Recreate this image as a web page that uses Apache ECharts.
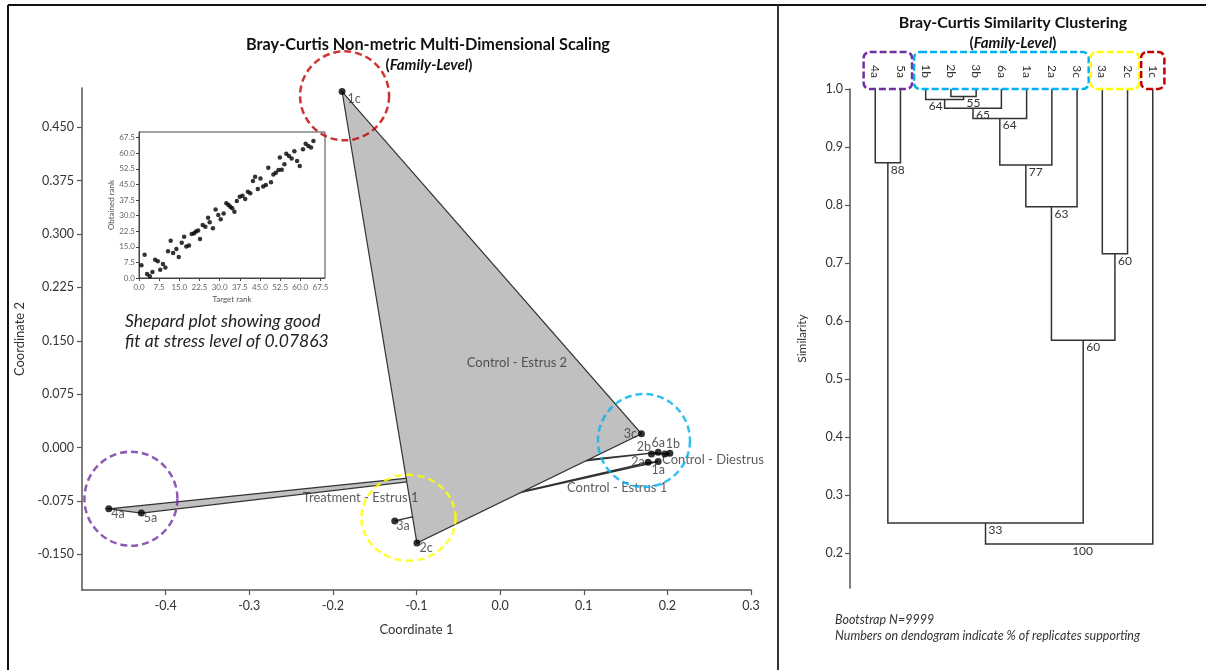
<!DOCTYPE html>
<html><head><meta charset="utf-8">
<script src="https://cdn.jsdelivr.net/npm/echarts@6/dist/echarts.min.js"></script>
<style>html,body{margin:0;padding:0;background:#fff}#c{width:1206px;height:670px}</style>
</head><body><div id="c"></div>
<script>
// ---------- NMDS sample coordinates ----------
const sampleNames = ['1a','2a','3a','4a','5a','6a','1b','2b','3b','1c','2c','3c'];
const coord1 = [0.189, 0.177, -0.126, -0.468, -0.429, 0.189, 0.203, 0.181, 0.197, -0.189, -0.0995, 0.169];
const coord2 = [-0.0197, -0.0207, -0.103, -0.086, -0.092, -0.0066, -0.008, -0.0089, -0.0089, 0.500, -0.134, 0.0193];

// ---------- groups (convex hulls) ----------
const groupNames = ['Control - Estrus 1', 'Treatment - Estrus 1', 'Control - Diestrus', 'Control - Estrus 2'];
const groupMembers = [['1a','2a','3a'], ['4a','5a','6a'], ['1b','2b','3b'], ['1c','2c','3c']];

// ---------- highlight circles (centres in data units) ----------
const circleX = [-0.186, 0.172, -0.4415, -0.1096];
const circleY = [0.494, 0.0099, -0.0718, -0.0986];

// ---------- axis ticks ----------
const nmdsXTicks = [-0.4, -0.3, -0.2, -0.1, 0.0, 0.1, 0.2, 0.3];
const nmdsYTicks = [-0.15, -0.075, 0.0, 0.075, 0.15, 0.225, 0.3, 0.375, 0.45];
const shepTicks = [0, 7.5, 15, 22.5, 30, 37.5, 45, 52.5, 60, 67.5];
const simTicks = [0.2, 0.3, 0.4, 0.5, 0.6, 0.7, 0.8, 0.9, 1.0];

// ---------- Shepard plot ----------
const targetRank = [0.9,2.1,3.0,4.0,5.0,6.0,7.0,7.9,8.9,9.8,10.8,11.8,12.7,13.9,14.8,15.9,16.8,17.6,18.6,19.6,20.5,21.2,22.0,22.7,23.7,24.7,25.7,26.3,27.5,28.5,29.5,30.4,31.5,32.5,33.3,34.0,34.7,35.5,36.4,37.5,38.5,39.5,40.5,41.4,42.4,43.2,44.2,45.2,46.2,47.2,48.1,49.1,50.0,50.9,51.9,52.4,53.1,54.1,54.8,55.8,56.8,57.8,58.8,59.8,61.0,62.0,63.0,64.0,64.9];
const obtainedRank = [6.1,11.2,1.9,0.8,2.9,8.8,8.0,4.0,6.7,5.1,12.9,17.9,12.0,13.9,10.1,16.9,19.8,15.2,15.6,21.1,21.5,22.3,22.8,18.8,25.5,24.6,29.0,26.8,23.9,32.9,30.3,28.2,31.0,35.9,35.1,34.3,33.5,31.9,37.0,39.1,39.6,38.0,41.5,40.7,46.6,48.7,42.8,47.9,44.0,44.7,53.0,46.0,49.8,50.6,51.9,57.9,52.0,54.7,59.8,58.7,57.4,61.0,56.2,53.9,61.9,64.6,63.5,62.7,65.9];

// ---------- Dendrogram ----------
const leafLabels = ['4a','5a','1b','2b','3b','6a','1a','2a','3c','3a','2c','1c'];
// node ids: leaves 0..11, merge k creates node 12+k
const mergeLeft  = [3, 2, 13, 14, 15, 16, 0, 9, 17, 18, 21];
const mergeRight = [4, 12, 5, 6, 7, 8, 1, 10, 19, 20, 11];
const mergeSim   = [0.987, 0.982, 0.967, 0.949, 0.869, 0.797, 0.873, 0.716, 0.567, 0.252, 0.216];
const mergeBoot  = [55, 64, 65, 64, 77, 63, 88, 60, 60, 33, 100];
// leaf-label boxes (first/last leaf index)
const boxFirst = [0, 2, 9, 11];
const boxLast  = [1, 8, 10, 11];

// =====================================================
const FONT = 'Lato, "Liberation Sans", sans-serif';
const groupColors = ['#7030a0', '#00b0f0', '#ffff00', '#c00000'];
const circleColors = ['#c00000', '#00b0f0', '#7030a0', '#ffff00'];
const circleSizes = [[89, 89], [92, 93], [93, 94], [94, 86]];

const byName = {}; sampleNames.forEach((n, i) => byName[n] = i);
const groupCentroids = groupMembers.map(m => {
  let sx = 0, sy = 0;
  m.forEach(n => { sx += coord1[byName[n]]; sy += coord2[byName[n]]; });
  return [sx / m.length, sy / m.length];
});

function hull(pts) {
  const p = pts.slice().sort((a, b) => a[0] - b[0] || a[1] - b[1]);
  if (p.length < 3) return p;
  const cross = (o, a, b) => (a[0]-o[0])*(b[1]-o[1]) - (a[1]-o[1])*(b[0]-o[0]);
  const lo = [], up = [];
  for (const q of p) { while (lo.length >= 2 && cross(lo[lo.length-2], lo[lo.length-1], q) <= 0) lo.pop(); lo.push(q); }
  for (let i = p.length-1; i >= 0; i--) { const q = p[i]; while (up.length >= 2 && cross(up[up.length-2], up[up.length-1], q) <= 0) up.pop(); up.push(q); }
  up.pop(); lo.pop(); return lo.concat(up);
}

const nodeX = leafLabels.map((_, i) => i);
const nodeY = leafLabels.map(() => 1.0);
mergeLeft.forEach((L, i) => { const R = mergeRight[i]; nodeX.push((nodeX[L] + nodeX[R]) / 2); nodeY.push(mergeSim[i]); });

const labelPos = {
  '1c': {position: 'right', distance: 2, offset: [0, 7]},
  '4a': {position: 'right', distance: 0, offset: [-1, 5]},
  '5a': {position: 'right', distance: 0, offset: [-1, 5]},
  '3a': {position: 'right', distance: 0, offset: [-2, 5]},
  '2c': {position: 'right', distance: 0, offset: [-1, 5]},
  '3c': {position: 'left', distance: 1, offset: [0, 0]},
  '2b': {position: 'left', distance: 0, offset: [3, -7]},
  '6a': {position: 'top', distance: 0, offset: [0, 1]},
  '1b': {position: 'top', distance: 0, offset: [3, 1]},
  '2a': {position: 'left', distance: 0, offset: [0, 0]},
  '1a': {position: 'bottom', distance: 0, offset: [0, -2]},
  '3b': {show: false}
};

const axisLineStyle = {color: '#555', width: 1.5};
const tickLabel = {fontFamily: FONT, fontSize: 12.5, color: '#333'};

const option = {
  animation: false,
  backgroundColor: '#fff',
  grid: [
    {left: 82, top: 88, right: 455, bottom: 80, outerBoundsMode: 'none'},
    {left: 139, top: 132, width: 186, height: 146, show: true, borderColor: '#444', borderWidth: 1, outerBoundsMode: 'none'},
    {left: 850, top: 89, right: 28, bottom: 82, outerBoundsMode: 'none'}
  ],
  xAxis: [
    {gridIndex: 0, type: 'value', min: -0.5, max: 0.3, name: 'Coordinate 1', nameLocation: 'middle', nameGap: 33,
     nameTextStyle: {fontFamily: FONT, fontSize: 13, color: '#333'},
     axisLine: {onZero: false, lineStyle: axisLineStyle}, splitLine: {show: false},
     axisTick: {length: 5, customValues: nmdsXTicks, lineStyle: {color: '#555', width: 1.2}},
     axisLabel: Object.assign({customValues: nmdsXTicks, margin: 9, formatter: v => v.toFixed(1)}, tickLabel)},
    {gridIndex: 1, type: 'value', min: 0, max: 69.2, name: 'Target rank', nameLocation: 'middle', nameGap: 17,
     nameTextStyle: {fontFamily: FONT, fontSize: 8, color: '#555'},
     axisLine: {onZero: false, lineStyle: {color: '#444', width: 1}}, splitLine: {show: false},
     axisTick: {length: 3, customValues: shepTicks, lineStyle: {color: '#444'}},
     axisLabel: {customValues: shepTicks, margin: 5, formatter: v => v.toFixed(1), fontFamily: FONT, fontSize: 8, color: '#666'}},
    {gridIndex: 2, type: 'value', position: 'top', min: -1, max: 12,
     axisLine: {show: false, onZero: false}, axisTick: {show: false}, splitLine: {show: false},
     axisLabel: {customValues: leafLabels.map((_, i) => i), rotate: 90, margin: 11, formatter: v => leafLabels[Math.round(v)],
       fontFamily: FONT, fontSize: 12, color: '#333'}}
  ],
  yAxis: [
    {gridIndex: 0, type: 'value', min: -0.2, max: 0.505, name: 'Coordinate 2', nameLocation: 'middle', nameGap: 50, nameRotate: 90,
     nameTextStyle: {fontFamily: FONT, fontSize: 13, color: '#333'},
     axisLine: {show: true, onZero: false, lineStyle: axisLineStyle}, splitLine: {show: false},
     axisTick: {show: true, length: 5, customValues: nmdsYTicks, lineStyle: {color: '#555', width: 1.2}},
     axisLabel: Object.assign({customValues: nmdsYTicks, margin: 8, formatter: v => v.toFixed(3)}, tickLabel)},
    {gridIndex: 1, type: 'value', min: 0, max: 70.2, name: 'Obtained rank', nameLocation: 'middle', nameGap: 22, nameRotate: 90,
     nameTextStyle: {fontFamily: FONT, fontSize: 8, color: '#555'},
     axisLine: {show: true, onZero: false, lineStyle: {color: '#444', width: 1}}, splitLine: {show: false},
     axisTick: {show: true, length: 3, customValues: shepTicks, lineStyle: {color: '#444'}},
     axisLabel: {customValues: shepTicks, margin: 4, formatter: v => v.toFixed(1), fontFamily: FONT, fontSize: 8, color: '#666'}},
    {gridIndex: 2, type: 'value', min: 0.14, max: 1.0, name: 'Similarity', nameLocation: 'middle', nameGap: 42, nameRotate: 90,
     nameTextStyle: {fontFamily: FONT, fontSize: 12, color: '#333'},
     axisLine: {show: true, onZero: false, lineStyle: axisLineStyle}, splitLine: {show: false},
     axisTick: {show: true, length: 5, customValues: simTicks, lineStyle: {color: '#555', width: 1.2}},
     axisLabel: Object.assign({customValues: simTicks, margin: 7, formatter: v => v.toFixed(1)}, tickLabel)}
  ],
  series: [
    { // convex hulls
      type: 'custom', xAxisIndex: 0, yAxisIndex: 0, z: 1, clip: false, silent: true,
      data: groupCentroids.map((c, g) => [c[0], c[1], g]),
      renderItem: (params, api) => {
        const g = params.dataIndex;
        const pts = groupMembers[g].map(n => api.coord([coord1[byName[n]], coord2[byName[n]]]));
        return {type: 'polygon', shape: {points: hull(pts)}, style: {fill: '#c0c0c0', stroke: '#333', lineWidth: 1.2}};
      }
    },
    { // group labels
      type: 'scatter', xAxisIndex: 0, yAxisIndex: 0, z: 2, symbolSize: 0, silent: true,
      data: groupCentroids.map((c, g) => [c[0], c[1], groupNames[g]]),
      label: {show: true, position: 'right', distance: 0, align: 'left', verticalAlign: 'top', formatter: p => p.value[2],
        fontFamily: FONT, fontSize: 13, color: '#333'}
    },
    { // dashed highlight circles
      type: 'scatter', xAxisIndex: 0, yAxisIndex: 0, z: 3, silent: true, symbol: 'circle',
      data: circleX.map((x, i) => ({value: [x, circleY[i]], symbolSize: circleSizes[i],
        itemStyle: {color: 'rgba(0,0,0,0)', borderColor: circleColors[i], borderWidth: 2.5, borderType: [7, 4]}}))
    },
    { // samples
      type: 'scatter', xAxisIndex: 0, yAxisIndex: 0, z: 4, symbolSize: 7, itemStyle: {color: '#000'},
      data: sampleNames.map((n, i) => ({value: [coord1[i], coord2[i]], name: n,
        label: Object.assign({show: true, formatter: n, fontFamily: FONT, fontSize: 12.5, color: '#333'}, labelPos[n] || {})}))
    },
    { // Shepard plot
      type: 'scatter', xAxisIndex: 1, yAxisIndex: 1, z: 4, symbolSize: 4.5, itemStyle: {color: '#000'},
      data: targetRank.map((t, i) => [t, obtainedRank[i]])
    },
    { // dendrogram
      type: 'custom', xAxisIndex: 2, yAxisIndex: 2, z: 2, clip: false, silent: true,
      data: mergeSim.map((s, i) => [nodeX[leafLabels.length + i], s, i]),
      renderItem: (params, api) => {
        const i = params.dataIndex, L = mergeLeft[i], R = mergeRight[i], s = mergeSim[i];
        const a = api.coord([nodeX[L], nodeY[L]]), b = api.coord([nodeX[L], s]);
        const c = api.coord([nodeX[R], s]), d = api.coord([nodeX[R], nodeY[R]]);
        const anchorX = (i === 1) ? nodeX[L] : nodeX[leafLabels.length + i];
        const m = api.coord([anchorX, s]);
        return {type: 'group', children: [
          {type: 'polyline', shape: {points: [a, b, c, d]}, style: {stroke: '#333', lineWidth: 1.5, fill: null}},
          {type: 'text', x: m[0] + 3, y: m[1] + 1, style: {text: String(mergeBoot[i]), fill: '#333', fontFamily: FONT, fontSize: 12, align: 'left', verticalAlign: 'top'}}
        ]};
      }
    },
    { // leaf-label boxes
      type: 'custom', xAxisIndex: 2, yAxisIndex: 2, z: 3, clip: false, silent: true,
      data: boxFirst.map((f, i) => [f, 1.0, i]),
      renderItem: (params, api) => {
        const i = params.dataIndex;
        const x0 = api.coord([boxFirst[i] - 0.5, 1.0])[0] + 1;
        const x1 = api.coord([boxLast[i] + 0.5, 1.0])[0] - 1;
        const yb = api.coord([0, 1.0])[1];
        return {type: 'rect', shape: {x: x0, y: yb - 37, width: x1 - x0, height: 37, r: 6},
          style: {fill: null, stroke: groupColors[i], lineWidth: 2.5, lineDash: [7, 3]}};
      }
    }
  ],
  graphic: [
    {type: 'line', silent: true, shape: {x1: 8, y1: 5, x2: 1206, y2: 5}, style: {stroke: '#111', lineWidth: 2}},
    {type: 'line', silent: true, shape: {x1: 8, y1: 5, x2: 8, y2: 670}, style: {stroke: '#111', lineWidth: 2}},
    {type: 'line', silent: true, shape: {x1: 778, y1: 5, x2: 778, y2: 670}, style: {stroke: '#333', lineWidth: 2}},
    {type: 'text', x: 428, y: 45, style: {text: 'Bray-Curtis Non-metric Multi-Dimensional Scaling', fontFamily: FONT, fontWeight: 'bold', fontSize: 16.3, fill: '#111', align: 'center', verticalAlign: 'middle'}},
    {type: 'text', x: 429, y: 65, style: {text: '({i|Family-Level})', fontFamily: FONT, fontWeight: 'bold', fontSize: 15, fill: '#111', align: 'center', verticalAlign: 'middle',
      rich: {i: {fontFamily: FONT, fontStyle: 'italic', fontWeight: 'bold', fontSize: 15, fill: '#111'}}}},
    {type: 'text', x: 1013, y: 23, style: {text: 'Bray-Curtis Similarity Clustering', fontFamily: FONT, fontWeight: 'bold', fontSize: 16, fill: '#111', align: 'center', verticalAlign: 'middle'}},
    {type: 'text', x: 1013, y: 43, style: {text: '({i|Family-Level})', fontFamily: FONT, fontWeight: 'bold', fontSize: 15, fill: '#111', align: 'center', verticalAlign: 'middle',
      rich: {i: {fontFamily: FONT, fontStyle: 'italic', fontWeight: 'bold', fontSize: 15, fill: '#111'}}}},
    {type: 'text', x: 125, y: 311, style: {text: 'Shepard plot showing good\nfit at stress level of 0.07863', fontFamily: FONT, fontStyle: 'italic', fontSize: 17.5, lineHeight: 20, fill: '#222', align: 'left', verticalAlign: 'top'}},
    {type: 'text', x: 835, y: 612, style: {text: 'Bootstrap N=9999\nNumbers on dendogram indicate % of replicates supporting', fontFamily: FONT, fontStyle: 'italic', fontSize: 12.5, lineHeight: 16, fill: '#333', align: 'left', verticalAlign: 'top'}}
  ]
};

const chart = echarts.init(document.getElementById('c'), null, {renderer: 'canvas', width: 1206, height: 670});
chart.setOption(option);
</script>
</body></html>
